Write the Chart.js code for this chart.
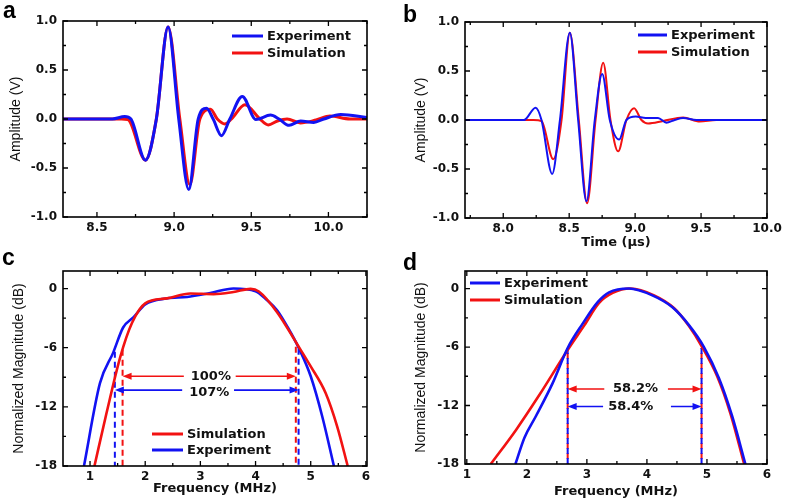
<!DOCTYPE html>
<html>
<head>
<meta charset="utf-8">
<script src="https://cdn.jsdelivr.net/npm/chart.js@4"></script>
<style>
    html, body { margin: 0; padding: 0; background: #fff; }
    #wrap { position: relative; width: 787px; height: 504px; }
    canvas { position: absolute; }
</style>
</head>
<body>
<div id="wrap">
    <canvas id="cA" width="393" height="250" style="left:0;top:0"></canvas>
    <canvas id="cB" width="394" height="250" style="left:393px;top:0"></canvas>
    <canvas id="cC" width="393" height="254" style="left:0;top:250px"></canvas>
    <canvas id="cD" width="394" height="254" style="left:393px;top:250px"></canvas>
</div>
<script>
// ---------- data ----------
// (a) time signal, transducer 1
const aExpT = [8.28, 8.60, 8.68, 8.72, 8.814, 8.885, 8.961, 9.03, 9.095, 9.156, 9.21, 9.253, 9.307, 9.361, 9.442, 9.53, 9.625, 9.68, 9.745, 9.82, 9.905, 9.97, 10.08, 10.25];
const aExpV = [0, 0, 0.025, 0, -0.42, 0, 0.94, 0, -0.72, 0, 0.11, 0, -0.17, 0, 0.23, -0.005, 0.04, 0, -0.065, -0.02, -0.035, 0, 0.045, 0.015];
const aSimT = [8.28, 8.66, 8.70, 8.814, 8.885, 8.961, 9.037, 9.102, 9.167, 9.236, 9.28, 9.329, 9.372, 9.459, 9.556, 9.61, 9.67, 9.732, 9.818, 9.92, 10.01, 10.14, 10.25];
const aSimV = [0, 0, -0.005, -0.42, 0, 0.94, 0, -0.67, 0, 0.10, 0, -0.05, 0, 0.145, 0, -0.06, -0.02, 0, -0.04, -0.01, 0.03, 0, 0];

// (b) time signal, transducer 2
const bExpT = [7.71, 8.157, 8.245, 8.29, 8.371, 8.43, 8.505, 8.568, 8.631, 8.694, 8.75, 8.808, 8.879, 8.934, 9.005, 9.08, 9.174, 9.237, 9.30, 9.364, 9.465, 10.0];
const bExpV = [0, 0, 0.125, 0, -0.55, 0, 0.89, 0, -0.83, 0, 0.47, 0, -0.2, 0, 0.035, 0.02, 0.02, -0.027, 0, 0.02, 0, 0];
const bSimT = [7.71, 8.23, 8.29, 8.379, 8.442, 8.505, 8.573, 8.636, 8.70, 8.758, 8.813, 8.871, 8.934, 8.992, 9.048, 9.098, 9.212, 9.364, 9.49, 9.616, 10.0];
const bSimV = [0, 0, -0.01, -0.40, 0, 0.89, 0, -0.85, 0, 0.585, 0, -0.32, 0, 0.12, 0, -0.035, -0.01, 0.025, -0.015, 0, 0];

// (c) spectrum, transducer 1
const cSimF = [1.08, 1.30, 1.55, 1.76, 2.0, 2.39, 2.82, 3.24, 3.6, 3.91, 4.06, 4.39, 4.76, 5.0, 5.27, 5.48, 5.67];
const cSimDb = [-18, -12.6, -6.9, -3.5, -1.5, -1.0, -0.5, -0.57, -0.35, -0.03, -0.3, -2.4, -5.7, -7.9, -10.6, -14, -18];
const cExpF = [0.89, 1.18, 1.42, 1.6, 1.79, 2.0, 2.39, 2.76, 3.18, 3.6, 4.0, 4.21, 4.39, 4.58, 4.79, 5.0, 5.21, 5.42];
const cExpDb = [-18, -9.6, -6.5, -3.95, -2.9, -1.6, -1.0, -0.85, -0.45, 0, -0.27, -1.2, -2.2, -3.9, -6.1, -8.9, -13, -18];
const cSimEdges = [1.59, 4.73];
const cExpEdges = [1.45, 4.78];
const cSimBw = '100%';
const cExpBw = '107%';

// (d) spectrum, transducer 2
const dExpF = [1.81, 1.96, 2.15, 2.43, 2.68, 2.93, 3.18, 3.37, 3.7, 4.09, 4.42, 4.7, 4.95, 5.2, 5.42, 5.64];
const dExpDb = [-18, -15.3, -13.1, -9.7, -6.1, -3.6, -1.4, -0.4, 0, -0.7, -1.9, -3.75, -6.0, -9.2, -13.1, -18];
const dSimF = [1.40, 1.82, 2.21, 2.68, 2.96, 3.2, 3.43, 3.73, 4.12, 4.45, 4.7, 4.92, 5.17, 5.39, 5.62];
const dSimDb = [-18, -14.5, -10.9, -6.3, -3.75, -1.5, -0.45, 0, -0.7, -2.0, -3.85, -6, -9, -12.8, -18];
const dEdges = [2.68, 4.91];
const dSimBw = '58.2%';
const dExpBw = '58.4%';

// ---------- styling ----------
const BLUE = '#1212f2';
const RED = '#f21212';
const TICK_FONT = { family: 'DejaVu Sans', size: 12, weight: 'bold' };
const BOLD_TITLE = { family: 'DejaVu Sans', size: 13, weight: 'bold' };
const Y_TITLE = { family: 'Liberation Sans', size: 14, weight: 'normal' };

function pts(xs, ys) {
    return xs.map((x, i) => ({ x: x, y: ys[i] }));
}

function curve(label, xs, ys, color, width) {
    return {
        label: label,
        data: pts(xs, ys),
        borderColor: color,
        borderWidth: width,
        pointRadius: 0,
        cubicInterpolationMode: 'monotone',
        fill: false
    };
}

// vertical -6 dB marker, drawn as a two-point dashed dataset
function marker(xv, yTop, color, dashOffset) {
    return {
        label: '',
        skipLegend: true,
        data: [{ x: xv, y: yTop }, { x: xv, y: -19 }],
        borderColor: color,
        borderWidth: 2,
        borderDash: [6, 4],
        borderDashOffset: dashOffset || 0,
        pointRadius: 0,
        fill: false
    };
}

// frame, mirrored inward ticks, legend, panel letter and bandwidth arrows
function panelPlugin(conf) {
    return {
        id: 'panel',
        afterDatasetsDraw(chart) {
            const { ctx, chartArea: ca, scales: { x, y } } = chart;
            ctx.save();

            // inward ticks on all four sides
            ctx.strokeStyle = '#000';
            ctx.lineWidth = 1.3;
            const marks = (scale, minor, horiz) => {
                const start = Math.ceil(scale.min / minor - 1e-6);
                const end = Math.floor(scale.max / minor + 1e-6);
                for (let k = start; k <= end; k++) {
                    const v = k * minor;
                    const len = (k % 2 === 0) ? 5 : 3;
                    const p = scale.getPixelForValue(v);
                    ctx.beginPath();
                    if (horiz) {
                        ctx.moveTo(p, ca.bottom); ctx.lineTo(p, ca.bottom - len);
                        ctx.moveTo(p, ca.top); ctx.lineTo(p, ca.top + len);
                    } else {
                        ctx.moveTo(ca.left, p); ctx.lineTo(ca.left + len, p);
                        ctx.moveTo(ca.right, p); ctx.lineTo(ca.right - len, p);
                    }
                    ctx.stroke();
                }
            };
            marks(x, conf.xMinor, true);
            marks(y, conf.yMinor, false);

            ctx.lineWidth = 1.6;
            ctx.strokeRect(ca.left, ca.top, ca.right - ca.left, ca.bottom - ca.top);

            // bandwidth arrows
            (conf.arrows || []).forEach(a => {
                const py = y.getPixelForValue(a.y);
                const x1 = x.getPixelForValue(a.from);
                const x2 = x.getPixelForValue(a.to);
                const g1 = x.getPixelForValue(a.gap[0]);
                const g2 = x.getPixelForValue(a.gap[1]);
                ctx.strokeStyle = a.color;
                ctx.fillStyle = a.color;
                ctx.lineWidth = 1.6;
                ctx.beginPath();
                ctx.moveTo(x1 + 6, py); ctx.lineTo(g1, py);
                ctx.moveTo(g2, py); ctx.lineTo(x2 - 6, py);
                ctx.stroke();
                ctx.beginPath();
                ctx.moveTo(x1, py); ctx.lineTo(x1 + 9, py - 3.5); ctx.lineTo(x1 + 9, py + 3.5); ctx.closePath();
                ctx.moveTo(x2, py); ctx.lineTo(x2 - 9, py - 3.5); ctx.lineTo(x2 - 9, py + 3.5); ctx.closePath();
                ctx.fill();
                ctx.fillStyle = '#111';
                ctx.font = 'bold 13px "DejaVu Sans"';
                ctx.textAlign = 'center';
                ctx.textBaseline = 'middle';
                ctx.fillText(a.text, x.getPixelForValue(a.tx), y.getPixelForValue(a.ty));
            });

            // legend
            const lg = conf.legend;
            let row = 0;
            chart.data.datasets.forEach(ds => {
                if (ds.skipLegend) return;
                const ly = lg.y + row * lg.dy;
                ctx.strokeStyle = ds.borderColor;
                ctx.lineWidth = 3;
                ctx.beginPath();
                ctx.moveTo(lg.x, ly); ctx.lineTo(lg.x + lg.len, ly);
                ctx.stroke();
                ctx.fillStyle = '#111';
                ctx.font = 'bold 13px "DejaVu Sans"';
                ctx.textAlign = 'left';
                ctx.textBaseline = 'middle';
                ctx.fillText(ds.label, lg.x + lg.len + 4, ly + 1);
                row++;
            });

            // panel letter
            ctx.fillStyle = '#000';
            ctx.font = 'bold 23px "Liberation Sans"';
            ctx.textAlign = 'left';
            ctx.textBaseline = 'alphabetic';
            ctx.fillText(conf.letter, conf.letterX, conf.letterY);
            ctx.restore();
        }
    };
}

function makeChart(id, conf) {
    const canvas = document.getElementById(id);
    const W = canvas.width, H = canvas.height;
    const xTitle = conf.xTitle
        ? { display: true, text: conf.xTitle, font: BOLD_TITLE, color: '#111', padding: { top: 0, bottom: conf.xTitlePad } }
        : { display: false };
    return new Chart(canvas, {
        type: 'line',
        data: { datasets: conf.datasets },
        plugins: [panelPlugin(conf)],
        options: {
            responsive: false,
            animation: false,
            devicePixelRatio: 1,
            layout: {
                autoPadding: false,
                padding: { top: conf.area.top, right: W - conf.area.right, left: 0, bottom: 0 }
            },
            plugins: { legend: { display: false }, tooltip: { enabled: false } },
            scales: {
                x: {
                    type: 'linear',
                    min: conf.xMin,
                    max: conf.xMax,
                    afterFit: s => { s.height = H - conf.area.bottom; },
                    grid: { display: false, drawTicks: false },
                    border: { display: false },
                    ticks: {
                        stepSize: conf.xStep,
                        includeBounds: false,
                        autoSkip: false,
                        maxRotation: 0,
                        padding: 4,
                        color: '#111',
                        font: TICK_FONT,
                        callback: v => v.toFixed(conf.xDec)
                    },
                    title: xTitle
                },
                y: {
                    type: 'linear',
                    min: conf.yMin,
                    max: conf.yMax,
                    afterFit: s => { s.width = conf.area.left; },
                    grid: { display: false, drawTicks: false },
                    border: { display: false },
                    ticks: {
                        stepSize: conf.yStep,
                        includeBounds: false,
                        autoSkip: false,
                        padding: 6,
                        color: '#111',
                        font: TICK_FONT,
                        callback: v => v.toFixed(conf.yDec)
                    },
                    title: { display: true, text: conf.yTitle, font: Y_TITLE, color: '#111', padding: { top: conf.yTitlePad, bottom: 0 } }
                }
            }
        }
    });
}

makeChart('cA', {
    area: { left: 63, right: 367, top: 21, bottom: 217 },
    xMin: 8.28, xMax: 10.25, xStep: 0.5, xMinor: 0.25, xDec: 1,
    yMin: -1, yMax: 1, yStep: 0.5, yMinor: 0.25, yDec: 1,
    yTitle: 'Amplitude (V)', yTitlePad: 7.6,
    datasets: [
        curve('Experiment', aExpT, aExpV, BLUE, 3),
        curve('Simulation', aSimT, aSimV, RED, 3)
    ],
    legend: { x: 232, y: 36, dy: 17, len: 31 },
    letter: 'a', letterX: 3, letterY: 18
});

makeChart('cB', {
    area: { left: 72, right: 374, top: 22, bottom: 218 },
    xMin: 7.71, xMax: 10.0, xStep: 0.5, xMinor: 0.25, xDec: 1,
    yMin: -1, yMax: 1, yStep: 0.5, yMinor: 0.25, yDec: 1,
    yTitle: 'Amplitude (V)', yTitlePad: 19.6,
    xTitle: 'Time (μs)', xTitlePad: 0,
    datasets: [
        curve('Experiment', bExpT, bExpV, BLUE, 2),
        curve('Simulation', bSimT, bSimV, RED, 2)
    ],
    legend: { x: 245, y: 35, dy: 17, len: 29 },
    letter: 'b', letterX: 10, letterY: 22
});

makeChart('cC', {
    area: { left: 63, right: 367, top: 21, bottom: 216 },
    xMin: 0.51, xMax: 6.02, xStep: 1, xMinor: 0.5, xDec: 0,
    yMin: -18, yMax: 1.78, yStep: 6, yMinor: 3, yDec: 0,
    yTitle: 'Normalized Magnitude (dB)', yTitlePad: 10.6,
    xTitle: 'Frequency (MHz)', xTitlePad: 8,
    datasets: [
        curve('Simulation', cSimF, cSimDb, RED, 2.6),
        curve('Experiment', cExpF, cExpDb, BLUE, 2.6),
        marker(cSimEdges[0], -6.2, RED),
        marker(cSimEdges[1], -5.9, RED),
        marker(cExpEdges[0], -6.4, BLUE),
        marker(cExpEdges[1], -6.1, BLUE)
    ],
    arrows: [
        { y: -8.9, from: cSimEdges[0], to: cSimEdges[1], gap: [2.70, 3.64], color: RED, text: cSimBw, tx: 3.19, ty: -8.98 },
        { y: -10.3, from: cExpEdges[0], to: cExpEdges[1], gap: [2.67, 3.61], color: BLUE, text: cExpBw, tx: 3.16, ty: -10.6 }
    ],
    legend: { x: 152, y: 184, dy: 16, len: 31 },
    letter: 'c', letterX: 2, letterY: 15
});

makeChart('cD', {
    area: { left: 72, right: 374, top: 21, bottom: 214 },
    xMin: 0.97, xMax: 6.0, xStep: 1, xMinor: 0.5, xDec: 0,
    yMin: -18, yMax: 1.8, yStep: 6, yMinor: 3, yDec: 0,
    yTitle: 'Normalized Magnitude (dB)', yTitlePad: 19.6,
    xTitle: 'Frequency (MHz)', xTitlePad: 5,
    datasets: [
        curve('Experiment', dExpF, dExpDb, BLUE, 2.6),
        curve('Simulation', dSimF, dSimDb, RED, 2.6),
        marker(dEdges[0], -6.1, BLUE, 0),
        marker(dEdges[0], -6.1, RED, 5),
        marker(dEdges[1], -6.1, BLUE, 0),
        marker(dEdges[1], -6.1, RED, 5)
    ],
    arrows: [
        { y: -10.3, from: dEdges[0], to: dEdges[1], gap: [3.29, 4.35], color: RED, text: dSimBw, tx: 3.81, ty: -10.3 },
        { y: -12.1, from: dEdges[0], to: dEdges[1], gap: [3.27, 4.40], color: BLUE, text: dExpBw, tx: 3.73, ty: -12.1 }
    ],
    legend: { x: 77, y: 33, dy: 17, len: 30 },
    letter: 'd', letterX: 10, letterY: 20
});
</script>
</body>
</html>
